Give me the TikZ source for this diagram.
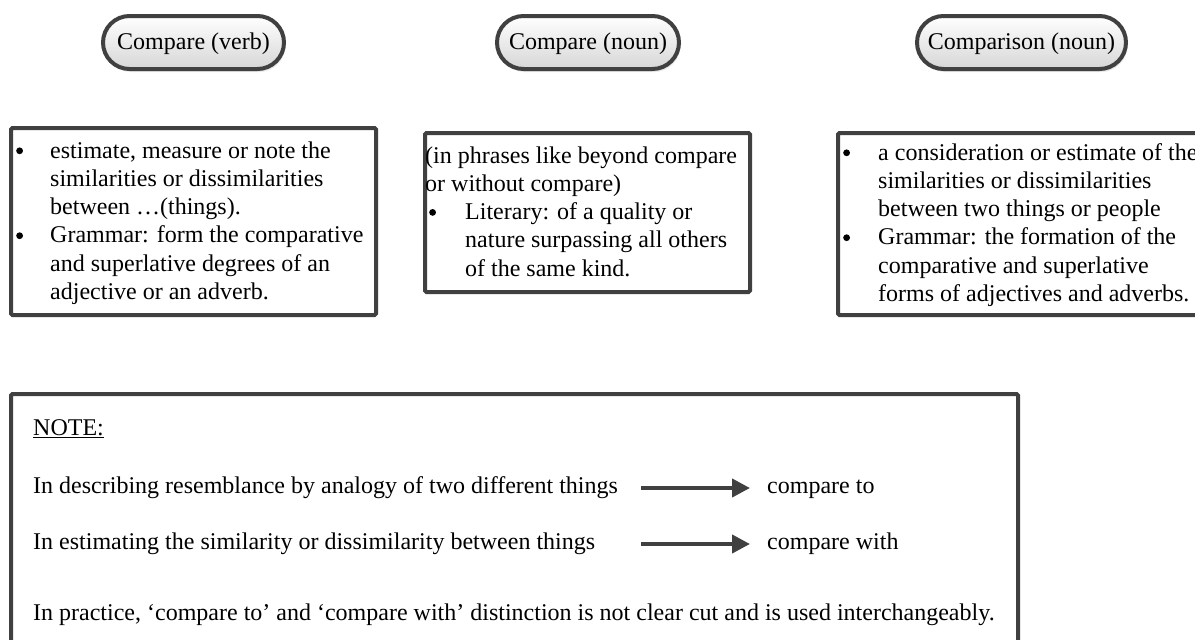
\documentclass[tikz,border=0pt]{standalone}
\usepackage{fontspec}
\setmainfont{Liberation Serif}
\usetikzlibrary{arrows.meta,shadows}
\definecolor{edge}{HTML}{404040}
% round list bullet, centred on the x-height
\newcommand\listdot{\tikz[baseline=0pt]\fill[black] (3.4pt,7.2pt) circle[radius=3.4pt];}
\begin{document}
\begin{tikzpicture}[x=1pt,y=-1pt,
  txt/.style={font=\fontsize{24}{28.3}\selectfont},
  pill/.style={txt, draw=edge, line width=4pt, rounded corners=26.5pt,
    top color=white, bottom color=black!16, minimum height=53pt, inner sep=0pt,
    text depth=2pt,
    drop shadow={shadow xshift=1.5pt, shadow yshift=-3pt, opacity=0.18}},
  panel/.style={draw=edge, line width=4pt, rounded corners=1.5pt, fill=white, inner sep=0pt},
  body/.style={txt, anchor=base west, inner sep=0pt},
  arr/.style={draw=edge, line width=4pt, -{Triangle[length=18pt,width=18pt]}},
]
\useasboundingbox (0,0) rectangle (1195,640);

% headword pills
\node[pill, minimum width=181pt] (p1) at (193.5,42.5) {Compare (verb)};
\node[pill, minimum width=182pt] (p2) at (588,42.5) {Compare (noun)};
\node[pill, minimum width=209pt] (p3) at (1021.5,42.5) {Comparison (noun)};

% definition panels
\node[panel, minimum width=365pt, minimum height=187pt] (b1) at (193.5,221.5) {};
\node[panel, minimum width=325pt, minimum height=159pt] (b2) at (587.5,212.5) {};
\node[panel, minimum width=362pt, minimum height=182pt] (b3) at (1019,224) {};

\node[body] (t1) at (16,158) {\begin{tabular}[t]{@{}p{34pt}@{}l@{}}
\listdot & estimate, measure or note the\\
 & similarities or dissimilarities\\
 & between …(things).\\
\listdot & Grammar: form the comparative\\
 & and superlative degrees of an\\
 & adjective or an adverb.
\end{tabular}};

\node[body] (t2) at (425,163) {\begin{tabular}[t]{@{}p{40pt}@{}l@{}}
\multicolumn{2}{@{}l@{}}{(in phrases like beyond compare}\\
\multicolumn{2}{@{}l@{}}{or without compare)}\\
\hspace{4pt}\listdot & Literary: of a quality or\\
 & nature surpassing all others\\
 & of the same kind.
\end{tabular}};

\node[body] (t3) at (843,160) {\begin{tabular}[t]{@{}p{35pt}@{}l@{}}
\listdot & a consideration or estimate of the\\
 & similarities or dissimilarities\\
 & between two things or people\\
\listdot & Grammar: the formation of the\\
 & comparative and superlative\\
 & forms of adjectives and adverbs.
\end{tabular}};

% usage note
\node[panel, minimum width=1007pt, minimum height=266pt] (nb) at (514.5,527) {};
\node[body] (note) at (33,435) {\underline{NOTE:}};
\node[body] (l1) at (33,493) {In describing resemblance by analogy of two different things};
\node[body] (r1) at (767,493) {compare to};
\node[body] (l2) at (33,549) {In estimating the similarity or dissimilarity between things};
\node[body] (r2) at (767,549) {compare with};
\node[body] (l3) at (33,620) {In practice, `compare to' and `compare with' distinction is not clear cut and is used interchangeably.};

\coordinate (a1s) at (641,488);
\coordinate (a1e) at (750,488);
\coordinate (a2s) at (641,544);
\coordinate (a2e) at (750,544);
\draw[arr] (a1s) -- (a1e);
\draw[arr] (a2s) -- (a2e);
\end{tikzpicture}
\end{document}
